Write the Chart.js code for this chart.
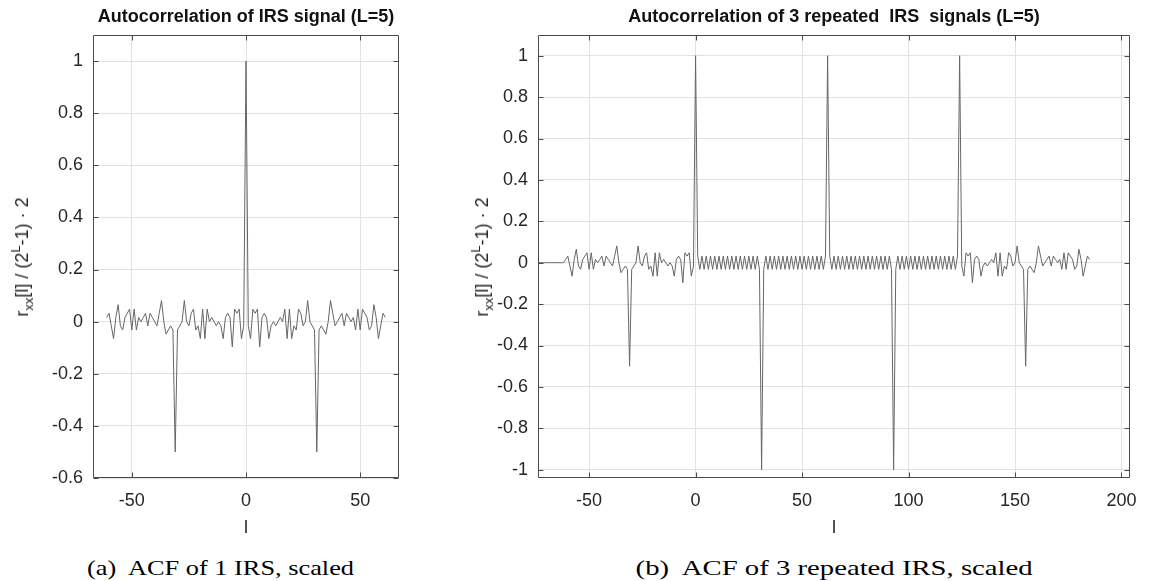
<!DOCTYPE html>
<html>
<head>
<meta charset="utf-8">
<script src="https://cdn.jsdelivr.net/npm/chart.js@4.4.1/dist/chart.umd.min.js"></script>
<style>
  body { margin: 0; background: #fff; width: 1151px; height: 581px; overflow: hidden; position: relative;
         font-family: "Liberation Sans", Arial, sans-serif; color: #262626; }
  .pane { position: absolute; top: 0; }
  .ttl { position: absolute; top: 6px; font-weight: bold; font-size: 18px; white-space: pre; color: #111;
         transform: translateX(-50%); }
  .ylab { position: absolute; font-size: 18px; white-space: nowrap; transform: translate(-50%, -50%) rotate(-90deg); }
  .ylab sub { font-size: 13px; vertical-align: -5px; }
  .ylab sup { font-size: 13px; vertical-align: 8px; }
  .xlab { position: absolute; top: 517px; font-size: 18px; transform: translateX(-50%); }
  .cap { position: absolute; font-family: "Liberation Serif", "Times New Roman", serif; font-size: 22px;
         white-space: pre; color: #000; }
</style>
</head>
<body>
<div class="pane" style="left:0px"><canvas id="accA" width="420" height="540"></canvas></div>
<div class="pane" style="left:440px"><canvas id="accB" width="711" height="540"></canvas></div>

<div class="ttl" style="left:246px">Autocorrelation of IRS signal (L=5)</div>
<div class="ttl" style="left:834px">Autocorrelation of 3 repeated  IRS  signals (L=5)</div>

<div class="ylab" style="left:22px; top:257px">r<sub>xx</sub>[l] / (2<sup>L</sup>-1) · 2</div>
<div class="ylab" style="left:482px; top:257px">r<sub>xx</sub>[l] / (2<sup>L</sup>-1) · 2</div>

<div class="xlab" style="left:246px">l</div>
<div class="xlab" style="left:834px">l</div>

<div class="cap" id="capA" data-cx="221" data-w="267">(a)  ACF of 1 IRS, scaled</div>
<div class="cap" id="capB" data-cx="834" data-w="397">(b)  ACF of 3 repeated IRS, scaled</div>

<script>
// lags -61..-1 of the single IRS autocorrelation (scaled)
const negSide = [
  0.016, 0.032, -0.016, -0.065, 0.016, 0.065, -0.016, -0.032, 0.016, 0.032,
  0.048, -0.032, 0.048, -0.032, 0.016, 0, 0.016, 0.032, -0.016, 0.032,
  0.016, 0, -0.016, 0.032, 0.081, 0, -0.048, -0.032, -0.016, -0.032,
  -0.5, -0.032, -0.016, 0, 0.081, 0, -0.016, 0.032, 0.048, -0.032,
  -0.016, -0.065, 0.048, -0.065, 0.048, 0, 0.016, 0, -0.016, 0,
  -0.016, -0.065, 0.016, 0.032, 0.016, -0.097, 0.048, 0.032, 0.048, -0.065,
  -0.016
];
// lags 1..61
const posSide = [
  -0.016, -0.065, 0.048, 0.032, 0.048, -0.097, 0.016, 0.032, 0.016, -0.065,
  -0.016, 0, -0.016, 0, 0.016, 0, 0.048, -0.065, 0.048, -0.065,
  -0.016, -0.032, 0.048, 0.032, -0.016, 0, 0.081, 0, -0.016, -0.032,
  -0.5, -0.032, -0.016, -0.032, -0.048, 0, 0.081, 0.032, -0.016, 0,
  0.016, 0.032, -0.016, 0.032, 0.016, 0, 0.016, -0.032, 0.048, -0.032,
  0.048, 0.032, 0.016, -0.032, -0.016, 0.065, 0.016, -0.065, -0.016, 0.032,
  0.016
];
const peakMain = 1;

// repeated signal: flat start, periodic ripple between the peaks
const padZeros = [0, 0, 0, 0, 0, 0, 0, 0, 0, 0, 0, 0, 0];
const rippleOdd = [
  0.032, -0.032, 0.032, -0.032, 0.032, -0.032, 0.032, -0.032, 0.032, -0.032,
  0.032, -0.032, 0.032, -0.032, 0.032, -0.032, 0.032, -0.032, 0.032, -0.032,
  0.032, -0.032, 0.032, -0.032, 0.032, -0.032, 0.032, -0.032, 0.032, -0.032
];
const rippleEven = [
  -0.032, 0.032, -0.032, 0.032, -0.032, 0.032, -0.032, 0.032, -0.032, 0.032,
  -0.032, 0.032, -0.032, 0.032, -0.032, 0.032, -0.032, 0.032, -0.032, 0.032,
  -0.032, 0.032, -0.032, 0.032, -0.032, 0.032, -0.032, 0.032, -0.032, 0.032
];
const peakNeg = -1;

const lagStartA = -61;
const lagStartB = -74;

const xTicksA = [-50, 0, 50];
const yTicksA = [-0.6, -0.4, -0.2, 0, 0.2, 0.4, 0.6, 0.8, 1];
const xTicksB = [-50, 0, 50, 100, 150, 200];
const yTicksB = [-1, -0.8, -0.6, -0.4, -0.2, 0, 0.2, 0.4, 0.6, 0.8, 1];

const valsA = [...negSide, peakMain, ...posSide];
const valsB = [...padZeros, ...negSide, peakMain,
  ...rippleOdd, peakNeg, ...rippleEven, peakMain,
  ...rippleOdd, peakNeg, ...rippleEven, peakMain, ...posSide];

const toPoints = (start, vals) => vals.map((v, i) => ({ x: start + i, y: v }));

const boxPlugin = {
  id: 'box',
  afterDraw(chart) {
    const { ctx, chartArea: a, scales } = chart;
    const L = Math.round(a.left) + 0.5, R = Math.round(a.right) - 0.5;
    const T = Math.round(a.top) + 0.5, B = Math.round(a.bottom) - 0.5;
    ctx.save();
    ctx.strokeStyle = '#4a4a4a';
    ctx.lineWidth = 1;
    ctx.beginPath();
    ctx.rect(L, T, R - L, B - T);
    scales.x.ticks.forEach(t => {
      const p = Math.round(scales.x.getPixelForValue(t.value)) + 0.5;
      ctx.moveTo(p, B); ctx.lineTo(p, B - 5);
      ctx.moveTo(p, T); ctx.lineTo(p, T + 5);
    });
    scales.y.ticks.forEach(t => {
      const p = Math.round(scales.y.getPixelForValue(t.value)) + 0.5;
      ctx.moveTo(L, p); ctx.lineTo(L + 5, p);
      ctx.moveTo(R, p); ctx.lineTo(R - 5, p);
    });
    ctx.stroke();
    ctx.restore();
  }
};

function makeChart(id, points, xr, yr, xt, yt, yAxisW, padRight) {
  const tickFont = { family: '"Liberation Sans", Arial, sans-serif', size: 18 };
  return new Chart(document.getElementById(id), {
    type: 'line',
    data: {
      datasets: [{
        data: points,
        borderColor: '#666666',
        borderWidth: 1,
        pointRadius: 0,
        tension: 0,
        fill: false
      }]
    },
    options: {
      responsive: false,
      animation: false,
      parsing: true,
      layout: { padding: { top: 35, right: padRight, left: 0, bottom: 0 } },
      plugins: { legend: { display: false }, tooltip: { enabled: false } },
      scales: {
        x: {
          type: 'linear', min: xr[0], max: xr[1],
          afterBuildTicks: s => { s.ticks = xt.map(v => ({ value: v })); },
          afterFit: s => { s.height = 62; },
          grid: { color: '#e2e2e2', drawTicks: false },
          border: { display: false },
          ticks: { font: tickFont, color: '#262626', padding: 12, maxRotation: 0, callback: v => String(v) }
        },
        y: {
          type: 'linear', min: yr[0], max: yr[1],
          afterBuildTicks: s => { s.ticks = yt.map(v => ({ value: v })); },
          afterFit: s => { s.width = yAxisW; },
          grid: { color: '#e2e2e2', drawTicks: false },
          border: { display: false },
          ticks: { font: tickFont, color: '#262626', padding: 10, callback: v => String(v) }
        }
      }
    },
    plugins: [boxPlugin]
  });
}

makeChart('accA', toPoints(lagStartA, valsA), [-67, 67], [-0.6, 1.1], xTicksA, yTicksA, 93, 21);
makeChart('accB', toPoints(lagStartB, valsB), [-74, 204], [-1.04, 1.1], xTicksB, yTicksB, 98, 21);

// fit captions to their measured widths
document.querySelectorAll('.cap').forEach(el => {
  const w = el.getBoundingClientRect().width;
  const h = el.getBoundingClientRect().height;
  const target = +el.dataset.w;
  const cx = +el.dataset.cx;
  el.style.left = (cx - w / 2) + 'px';
  el.style.top = (568 - h / 2) + 'px';
  el.style.transform = 'scaleX(' + (target / w).toFixed(3) + ')';
});
</script>
</body>
</html>
